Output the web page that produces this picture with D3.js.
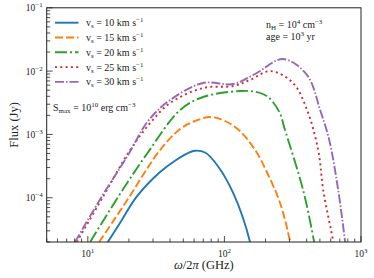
<!DOCTYPE html>
<html>
<head>
<meta charset="utf-8">
<script src="https://cdn.jsdelivr.net/npm/d3@7"></script>
<style>
  body { margin: 0; background: #fff; }
  text { font-family: "Liberation Serif", "DejaVu Serif", serif; fill: #222; }
</style>
</head>
<body>
<svg id="chart" width="374" height="278"></svg>
<script>
// values (GHz, Jy)
var speeds = [10, 15, 20, 25, 30];
var colors = ["#1f77b4", "#ff7f0e", "#2ca02c", "#d62728", "#9467bd"];
var dashes = ["none", "8,3", "12,3,2,3", "2,3.3", "9,2,1.5,2"];

var freq10 = [14.0, 17.2, 22.8, 33.8, 43.5, 54.2, 61.0, 72.2, 88.4, 115.9, 154, 165];
var flux10 = [2.0e-5, 4.0e-5, 1.04e-4, 2.55e-4, 3.85e-4, 5.08e-4, 5.53e-4, 5.18e-4, 3.29e-4, 1.19e-4, 2.0e-5, 8e-6];

var freq15 = [12.1, 15.7, 20.3, 26.2, 33.8, 47.4, 61.0, 78.6, 101, 130, 168, 206, 256, 303, 320];
var flux15 = [2.0e-5, 4.6e-5, 1.06e-4, 2.55e-4, 5.67e-4, 1.22e-3, 1.63e-3, 1.88e-3, 1.63e-3, 1.13e-3, 5.67e-4, 2.46e-4, 8.2e-5, 2.0e-5, 1e-5];

var freq20 = [10.4, 16.8, 27.2, 47.4, 69.8, 130, 170, 209, 254, 275, 377, 454, 480];
var flux20 = [2.0e-5, 1.06e-4, 5.0e-4, 2.43e-3, 3.90e-3, 4.85e-3, 4.7e-3, 3.9e-3, 2.2e-3, 1.26e-3, 1.32e-4, 2.0e-5, 1e-5];

var freq25 = [8.3, 13.0, 20.4, 28.6, 40.0, 69.8, 116, 154, 216, 318, 403, 486, 529, 627, 660];
var flux25 = [2.0e-5, 1.06e-4, 5.67e-4, 1.51e-3, 3.13e-3, 5.41e-3, 5.82e-3, 7.24e-3, 1.00e-2, 6.49e-3, 2.43e-3, 5.67e-4, 1.32e-4, 2.0e-5, 1e-5];

var freq30 = [8.06, 12.7, 19.7, 27.6, 40.0, 69.8, 116, 168, 269, 403, 502, 585, 681, 766, 800];
var flux30 = [2.0e-5, 1.06e-4, 4.73e-4, 1.63e-3, 3.49e-3, 6.49e-3, 6.25e-3, 9.0e-3, 1.55e-2, 8.67e-3, 2.43e-3, 8.2e-4, 1.32e-4, 2.0e-5, 1e-5];

var freqs = [freq10, freq15, freq20, freq25, freq30];
var fluxes = [flux10, flux15, flux20, flux25, flux30];

var xDomain = [5, 1000];
var yDomain = [2e-5, 0.1];
var xMajor = [10, 100, 1000];
var yMajor = [1e-4, 1e-3, 1e-2, 1e-1];

var margin = {left: 46.7, top: 7.8, right: 13, bottom: 36};
var W = 374, H = 278;
var svg = d3.select("#chart");

var x = d3.scaleLog().domain(xDomain).range([margin.left, W - margin.right]);
var y = d3.scaleLog().domain(yDomain).range([H - margin.bottom, margin.top]);

svg.append("clipPath").attr("id", "clip")
    .append("rect")
    .attr("x", x.range()[0]).attr("y", y.range()[1])
    .attr("width", x.range()[1] - x.range()[0])
    .attr("height", y.range()[0] - y.range()[1]);

var line = d3.line()
    .x(function (d) { return x(d[0]); })
    .y(function (d) { return y(d[1]); })
    .curve(d3.curveCatmullRom.alpha(0.5));

var g = svg.append("g").attr("clip-path", "url(#clip)");
for (var i = 0; i < speeds.length; i++) {
    var pts = d3.zip(freqs[i], fluxes[i]);
    g.append("path")
        .attr("d", line(pts))
        .attr("fill", "none")
        .attr("stroke", colors[i])
        .attr("stroke-width", 1.9)
        .attr("stroke-dasharray", dashes[i]);
}

// ticks (inward, bottom and left only)
var x0 = x.range()[0], x1 = x.range()[1];
var y0 = y.range()[0], y1 = y.range()[1];
var ticks = svg.append("g").attr("stroke", "#222").attr("stroke-width", 0.8);
x.ticks().forEach(function (t) {
    var major = xMajor.indexOf(t) >= 0;
    ticks.append("line")
        .attr("x1", x(t)).attr("x2", x(t))
        .attr("y1", y0).attr("y2", y0 - (major ? 6 : 3.5));
});
y.ticks().forEach(function (t) {
    var major = yMajor.some(function (m) { return Math.abs(m - t) / m < 1e-6; });
    ticks.append("line")
        .attr("x1", x0).attr("x2", x0 + (major ? 6 : 3.5))
        .attr("y1", y(t)).attr("y2", y(t));
});

svg.append("rect")
    .attr("x", x0).attr("y", y1)
    .attr("width", x1 - x0).attr("height", y0 - y1)
    .attr("fill", "none").attr("stroke", "#222").attr("stroke-width", 1);

// tick labels
function powLabel(sel, exp) {
    sel.append("tspan").text("10");
    sel.append("tspan").attr("dy", -4).attr("font-size", 7).text(exp);
}
xMajor.forEach(function (t) {
    var tx = svg.append("text")
        .attr("x", x(t)).attr("y", y0 + 15)
        .attr("text-anchor", "middle").attr("font-size", 9.5);
    powLabel(tx, String(Math.round(Math.log10(t))));
});
yMajor.forEach(function (t) {
    var ty = svg.append("text")
        .attr("x", x0 - 4).attr("y", y(t) + 3.5)
        .attr("text-anchor", "end").attr("font-size", 9.5);
    powLabel(ty, "\u2212" + Math.round(-Math.log10(t)));
});

// axis labels
var xl = svg.append("text")
    .attr("x", (x0 + x1) / 2).attr("y", 269)
    .attr("text-anchor", "middle").attr("font-size", 12.5);
xl.append("tspan").attr("font-style", "italic").text("\u03c9");
xl.append("tspan").text("/2");
xl.append("tspan").attr("font-style", "italic").text("\u03c0");
xl.append("tspan").text(" (GHz)");

svg.append("text")
    .attr("transform", "translate(18," + ((y0 + y1) / 2) + ") rotate(-90)")
    .attr("text-anchor", "middle").attr("font-size", 12.5)
    .text("Flux (Jy)");

// legend
var leg = svg.append("g");
speeds.forEach(function (s, i) {
    var ly = 22.7 + i * 14.8;
    leg.append("line")
        .attr("x1", 55).attr("x2", 78.5)
        .attr("y1", ly).attr("y2", ly)
        .attr("stroke", colors[i]).attr("stroke-width", 1.9)
        .attr("stroke-dasharray", dashes[i]);
    var t = leg.append("text").attr("x", 86).attr("y", ly + 3.5).attr("font-size", 10);
    t.append("tspan").text("v");
    t.append("tspan").attr("dy", 2).attr("font-size", 7).text("s");
    t.append("tspan").attr("dy", -2).text(" = " + s + " km s");
    t.append("tspan").attr("dy", -4).attr("font-size", 7).text("\u22121");
});

var st = svg.append("text").attr("x", 53).attr("y", 111).attr("font-size", 10);
st.append("tspan").text("S");
st.append("tspan").attr("dy", 2).attr("font-size", 7).text("max");
st.append("tspan").attr("dy", -2).text(" = 10");
st.append("tspan").attr("dy", -4).attr("font-size", 7).text("10");
st.append("tspan").attr("dy", 4).text(" erg cm");
st.append("tspan").attr("dy", -4).attr("font-size", 7).text("\u22123");

var nt = svg.append("text").attr("x", 266).attr("y", 28).attr("font-size", 10);
nt.append("tspan").text("n");
nt.append("tspan").attr("dy", 2).attr("font-size", 7).text("H");
nt.append("tspan").attr("dy", -2).text(" = 10");
nt.append("tspan").attr("dy", -4).attr("font-size", 7).text("4");
nt.append("tspan").attr("dy", 4).text(" cm");
nt.append("tspan").attr("dy", -4).attr("font-size", 7).text("\u22123");

var at = svg.append("text").attr("x", 266).attr("y", 40).attr("font-size", 10);
at.append("tspan").text("age = 10");
at.append("tspan").attr("dy", -4).attr("font-size", 7).text("3");
at.append("tspan").attr("dy", 4).text(" yr");
</script>
</body>
</html>
